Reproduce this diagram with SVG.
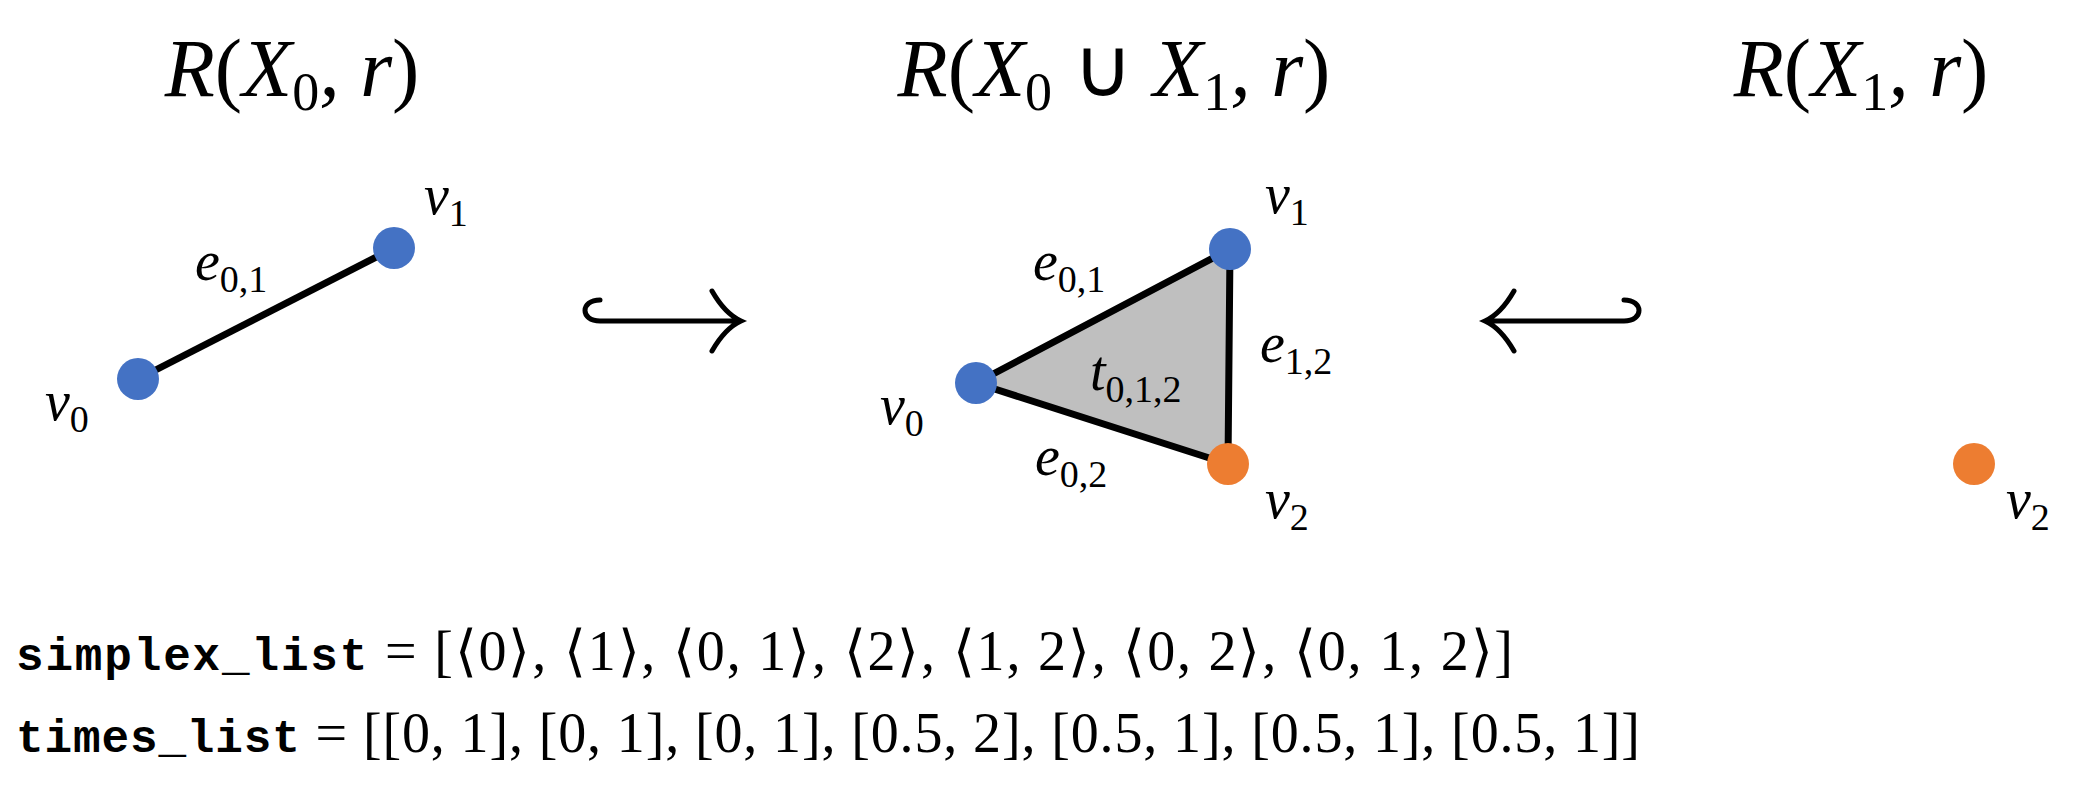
<svg xmlns="http://www.w3.org/2000/svg" width="2099" height="807" viewBox="0 0 2099 807">
<style>
.m{font-family:"Liberation Serif",serif;font-style:italic;fill:#000}
.t{font-size:82px}
.ts{font-size:54px;font-style:normal}
.l{font-size:56px}
.s{font-size:38px;font-style:normal}
.r{font-family:"Liberation Serif",serif;font-style:normal}
.code{font-family:"Liberation Mono",monospace;font-weight:bold;font-size:46px}
.eq{font-family:"Liberation Serif",serif;font-size:56px}
.edge{stroke:#000;stroke-width:7;fill:none}
.blue{fill:#4472C4}.orange{fill:#ED7D31}
.arr{stroke:#000;stroke-width:5;fill:none;stroke-linecap:round}
</style>
<rect width="2099" height="807" fill="#fff"/>
<g id="titles">
<text class="m t" x="292" y="96" text-anchor="middle">R<tspan class="r">(</tspan>X<tspan class="ts" dy="14">0</tspan><tspan dy="-14">, r</tspan><tspan class="r">)</tspan></text>
<text class="m t" x="1114" y="96" text-anchor="middle">R<tspan class="r">(</tspan>X<tspan class="ts" dy="14">0</tspan><tspan dy="-14" class="r"> ∪ </tspan>X<tspan class="ts" dy="14">1</tspan><tspan dy="-14">, r</tspan><tspan class="r">)</tspan></text>
<text class="m t" x="1861" y="96" text-anchor="middle">R<tspan class="r">(</tspan>X<tspan class="ts" dy="14">1</tspan><tspan dy="-14">, r</tspan><tspan class="r">)</tspan></text>
</g>
<g id="connectors">
<line class="edge" x1="138" y1="379" x2="394" y2="248"/>
<polygon points="976,383 1230,249 1228,464" fill="#BFBFBF" stroke="#000" stroke-width="7" stroke-linejoin="round"/>
<path class="arr" d="M600,300 C580,300 580,321 600,321 L740,321 M712,291 C720,305 730,316 741,321 C730,326 720,337 712,351"/>
<path class="arr" d="M1624,300 C1644,300 1644,321 1624,321 L1486,321 M1514,291 C1506,305 1496,316 1485,321 C1496,326 1506,337 1514,351"/>
</g>
<g id="left-v0"><circle class="blue" cx="138" cy="379" r="21"/><text class="m l" x="45" y="420">v<tspan class="s" dy="12">0</tspan></text></g>
<g id="left-v1"><circle class="blue" cx="394" cy="248" r="21"/><text class="m l" x="424" y="214">v<tspan class="s" dy="12">1</tspan></text></g>
<text class="m l" x="195" y="280">e<tspan class="s" dy="12">0,1</tspan></text>
<g id="mid-v0"><circle class="blue" cx="976" cy="383" r="21"/><text class="m l" x="880" y="424">v<tspan class="s" dy="12">0</tspan></text></g>
<g id="mid-v1"><circle class="blue" cx="1230" cy="249" r="21"/><text class="m l" x="1265" y="213">v<tspan class="s" dy="12">1</tspan></text></g>
<g id="mid-v2"><circle class="orange" cx="1228" cy="464" r="21"/><text class="m l" x="1265" y="518">v<tspan class="s" dy="12">2</tspan></text></g>
<text class="m l" x="1033" y="280">e<tspan class="s" dy="12">0,1</tspan></text>
<text class="m l" x="1260" y="362">e<tspan class="s" dy="12">1,2</tspan></text>
<text class="m l" x="1035" y="475">e<tspan class="s" dy="12">0,2</tspan></text>
<text class="m l" x="1090" y="390">t<tspan class="s" dy="12">0,1,2</tspan></text>
<g id="right-v2"><circle class="orange" cx="1974" cy="464" r="21"/><text class="m l" x="2006" y="518">v<tspan class="s" dy="12">2</tspan></text></g>
<g id="lists">
<text x="16" y="670" textLength="1497" lengthAdjust="spacing"><tspan class="code">simplex_list</tspan><tspan class="eq"> = [⟨0⟩, ⟨1⟩, ⟨0, 1⟩, ⟨2⟩, ⟨1, 2⟩, ⟨0, 2⟩, ⟨0, 1, 2⟩]</tspan></text>
<text x="16" y="752" textLength="1624" lengthAdjust="spacing"><tspan class="code">times_list</tspan><tspan class="eq"> = [[0, 1], [0, 1], [0, 1], [0.5, 2], [0.5, 1], [0.5, 1], [0.5, 1]]</tspan></text>
</g>
</svg>
